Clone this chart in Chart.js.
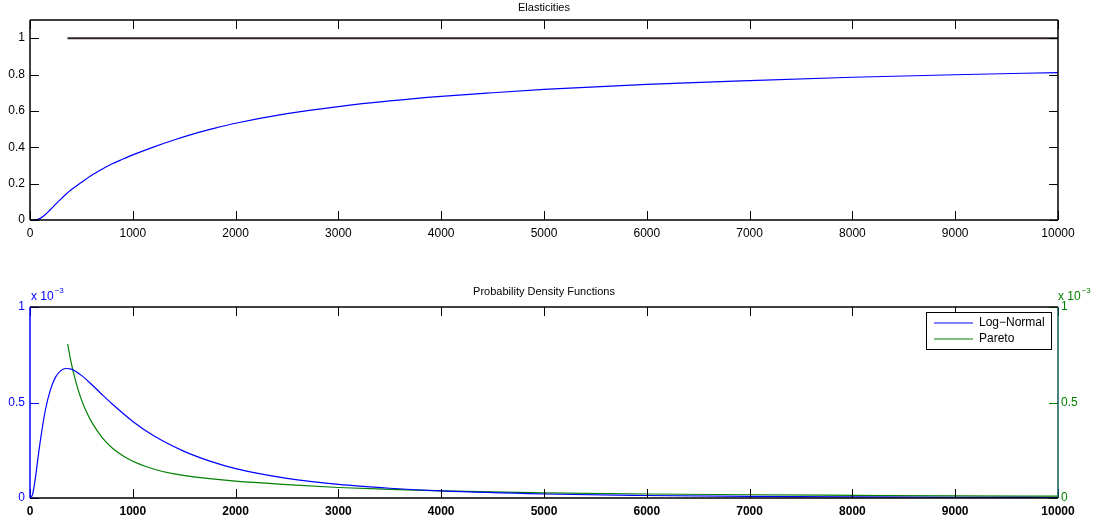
<!DOCTYPE html>
<html>
<head>
<meta charset="utf-8">
<script src="https://cdn.jsdelivr.net/npm/chart.js@4.4.1/dist/chart.umd.min.js"></script>
<style>
  html, body { margin: 0; padding: 0; background: #fff; }
  #wrap { position: relative; width: 1105px; height: 524px; }
  .panel { position: absolute; left: 0; width: 1105px; }
  #top { top: 0; height: 250px; }
  #bottom { top: 280px; height: 244px; }
</style>
</head>
<body>
<div id="wrap">
  <div class="panel" id="top"><canvas id="elastChart"></canvas></div>
  <div class="panel" id="bottom"><canvas id="pdfChart"></canvas></div>
</div>
<script>
// ---------- Data ----------
const xTicks = [0, 1000, 2000, 3000, 4000, 5000, 6000, 7000, 8000, 9000, 10000];
const elastTicks = [0, 0.2, 0.4, 0.6, 0.8, 1];
const pdfTicks = [0, 0.5, 1]; // x 10^-3

// elasticities
const elastX = [0, 50, 100, 150, 200, 250, 300, 400, 500, 600, 700, 800, 900, 1000, 1200, 1400, 1600, 1800,
  2000, 2500, 3000, 3500, 4000, 4500, 5000, 6000, 7000, 8000, 9000, 10000];
const elastY = [0, 0.001, 0.009, 0.03, 0.058, 0.087, 0.115, 0.166, 0.207, 0.246, 0.279, 0.309, 0.334, 0.358,
  0.401, 0.44, 0.475, 0.505, 0.532, 0.585, 0.624, 0.655, 0.68, 0.7, 0.718, 0.746, 0.767, 0.785, 0.799, 0.811];
const unitX = [365, 10000];
const unitY = [1, 1];

// densities, in units of 10^-3
const lognormX = [0, 25, 50, 75, 100, 150, 200, 250, 300, 350, 400, 500, 600, 700, 800, 1000, 1200, 1500,
  1750, 2000, 2500, 3000, 3500, 4000, 5000, 6000, 7000, 8000, 9000, 10000];
const lognormY = [0, 0.019, 0.096, 0.198, 0.298, 0.462, 0.569, 0.634, 0.667, 0.678, 0.675, 0.642, 0.594,
  0.542, 0.492, 0.401, 0.327, 0.244, 0.193, 0.154, 0.103, 0.071, 0.051, 0.037, 0.021, 0.013, 0.008,
  0.0055, 0.0038, 0.0027];
const paretoX = [366, 400, 450, 500, 550, 600, 700, 800, 900, 1000, 1200, 1400, 1700, 2000, 2500, 3000,
  3500, 4000, 5000, 6000, 7000, 8000, 9000, 10000];
const paretoY = [0.806, 0.71, 0.6, 0.515, 0.45, 0.397, 0.318, 0.262, 0.222, 0.192, 0.152, 0.126, 0.104,
  0.088, 0.07, 0.055, 0.045, 0.037, 0.027, 0.021, 0.017, 0.014, 0.011, 0.0095];

const BLUE = "#0000ff";
const GREEN = "#008000";
const FONT = "'Liberation Sans', Arial, Helvetica, sans-serif";

function zip(xs, ys) {
  return xs.map((x, i) => ({ x, y: ys[i] }));
}

// ---------- MATLAB-ish frame: box + inward ticks ----------
const framePlugin = {
  id: "frame",
  afterDraw(chart, args, opts) {
    const { ctx, chartArea: a, scales } = chart;
    const len = 9;
    const px = (v) => Math.round(v) + 0.5;
    ctx.save();
    ctx.lineWidth = 1;

    ctx.strokeStyle = "#000";
    ctx.beginPath();
    for (const t of scales.x.ticks) {
      const x = px(scales.x.getPixelForValue(t.value));
      ctx.moveTo(x, a.bottom); ctx.lineTo(x, a.bottom - len);
      ctx.moveTo(x, a.top); ctx.lineTo(x, a.top + len);
    }
    ctx.stroke();

    ctx.strokeStyle = opts.leftColor;
    ctx.beginPath();
    for (const t of scales.y.ticks) {
      const y = px(scales.y.getPixelForValue(t.value));
      ctx.moveTo(a.left, y); ctx.lineTo(a.left + len, y);
    }
    ctx.stroke();

    const rs = scales[opts.rightScale];
    ctx.strokeStyle = opts.rightColor;
    ctx.beginPath();
    for (const t of rs.ticks) {
      const y = px(rs.getPixelForValue(t.value));
      ctx.moveTo(a.right, y); ctx.lineTo(a.right - len, y);
    }
    ctx.stroke();

    ctx.lineWidth = 1.5;
    ctx.strokeStyle = "#000";
    ctx.beginPath();
    ctx.moveTo(a.left, a.top); ctx.lineTo(a.right, a.top);
    ctx.moveTo(a.left, a.bottom); ctx.lineTo(a.right, a.bottom);
    ctx.stroke();
    ctx.strokeStyle = opts.leftColor;
    ctx.beginPath();
    ctx.moveTo(a.left, a.top); ctx.lineTo(a.left, a.bottom);
    ctx.stroke();
    ctx.strokeStyle = opts.rightEdge;
    ctx.beginPath();
    ctx.moveTo(a.right, a.top); ctx.lineTo(a.right, a.bottom);
    ctx.stroke();
    ctx.restore();
  },
};

// ---------- exponent labels + boxed legend for the pdf panel ----------
const pdfExtras = {
  id: "pdfExtras",
  afterDraw(chart) {
    const { ctx, chartArea: a } = chart;
    ctx.save();
    ctx.textBaseline = "middle";
    ctx.textAlign = "left";
    const expo = (x, color) => {
      ctx.fillStyle = color;
      ctx.font = "12px " + FONT;
      ctx.fillText("x 10", x, a.top - 10);
      const w = ctx.measureText("x 10").width;
      ctx.font = "8px " + FONT;
      ctx.fillText("\u22123", x + w + 1, a.top - 16);
    };
    expo(a.left + 1, BLUE);
    expo(a.right, GREEN);

    // legend box
    const bx = a.right - 132, by = a.top + 5, bw = 125, bh = 37;
    ctx.fillStyle = "#fff";
    ctx.fillRect(bx, by, bw, bh);
    ctx.strokeStyle = "#000";
    ctx.lineWidth = 1;
    ctx.strokeRect(Math.round(bx) + 0.5, Math.round(by) + 0.5, bw, bh);
    ctx.font = "12px " + FONT;
    chart.data.datasets.forEach((ds, i) => {
      const y = by + 11 + i * 16;
      ctx.strokeStyle = ds.borderColor;
      ctx.beginPath();
      ctx.moveTo(bx + 8, y); ctx.lineTo(bx + 47, y);
      ctx.stroke();
      ctx.fillStyle = "#000";
      ctx.fillText(ds.label, bx + 53, y);
    });
    ctx.restore();
  },
};

function xScale(bold) {
  return {
    type: "linear",
    min: 0,
    max: 10000,
    afterBuildTicks: (s) => { s.ticks = xTicks.map((v) => ({ value: v })); },
    afterFit: (s) => { s.height = bold ? 26 : 30; },
    grid: { display: false, drawTicks: false },
    border: { display: false },
    ticks: {
      autoSkip: false,
      maxRotation: 0,
      padding: 6,
      color: "#000",
      font: { family: FONT, size: 12, weight: bold ? "bold" : "normal" },
      callback: (v) => String(v),
    },
  };
}

function yScale(pos, ticks, max, width, color) {
  return {
    type: "linear",
    position: pos,
    min: 0,
    max: max,
    afterBuildTicks: (s) => { s.ticks = ticks.map((v) => ({ value: v })); },
    afterFit: (s) => { s.width = width; },
    grid: { display: false, drawTicks: false },
    border: { display: false },
    ticks: {
      padding: pos === "left" ? 5 : 3,
      color: color,
      font: { family: FONT, size: 12 },
      callback: (v) => String(v),
    },
  };
}

// ---------- Elasticities ----------
new Chart(document.getElementById("elastChart"), {
  type: "line",
  data: {
    datasets: [
      { data: zip(unitX, unitY), borderColor: "#2e2228", borderWidth: 2 },
      { data: zip(elastX, elastY), borderColor: BLUE, borderWidth: 1.2, cubicInterpolationMode: "monotone" },
    ],
  },
  options: {
    responsive: true,
    maintainAspectRatio: false,
    animation: false,
    layout: { padding: { left: 0, right: 47, top: 0, bottom: 0 } },
    elements: { point: { radius: 0 } },
    plugins: {
      legend: { display: false },
      tooltip: { enabled: false },
      title: {
        display: true,
        fullSize: false,
        text: "Elasticities",
        color: "#000",
        font: { family: FONT, size: 11, weight: "normal", lineHeight: 1 },
        padding: { top: 2, bottom: 7 },
      },
      frame: { leftColor: "#000", rightColor: "#000", rightEdge: "#000", rightScale: "y" },
    },
    scales: {
      x: xScale(false),
      y: yScale("left", elastTicks, 1.1, 30, "#000"),
    },
  },
  plugins: [framePlugin],
});

// ---------- Probability Density Functions ----------
new Chart(document.getElementById("pdfChart"), {
  type: "line",
  data: {
    datasets: [
      { label: "Log\u2212Normal", data: zip(lognormX, lognormY), borderColor: BLUE, borderWidth: 1.2,
        cubicInterpolationMode: "monotone", yAxisID: "y" },
      { label: "Pareto", data: zip(paretoX, paretoY), borderColor: GREEN, borderWidth: 1.2,
        cubicInterpolationMode: "monotone", yAxisID: "y2" },
    ],
  },
  options: {
    responsive: true,
    maintainAspectRatio: false,
    animation: false,
    layout: { padding: 0 },
    elements: { point: { radius: 0 } },
    plugins: {
      legend: { display: false },
      tooltip: { enabled: false },
      title: {
        display: true,
        fullSize: false,
        text: "Probability Density Functions",
        color: "#000",
        font: { family: FONT, size: 11, weight: "normal", lineHeight: 1 },
        padding: { top: 6, bottom: 10 },
      },
      frame: { leftColor: BLUE, rightColor: GREEN, rightEdge: "#10585a", rightScale: "y2" },
    },
    scales: {
      x: xScale(true),
      y: yScale("left", pdfTicks, 1, 30, BLUE),
      y2: yScale("right", pdfTicks, 1, 47, GREEN),
    },
  },
  plugins: [framePlugin, pdfExtras],
});
</script>
</body>
</html>
